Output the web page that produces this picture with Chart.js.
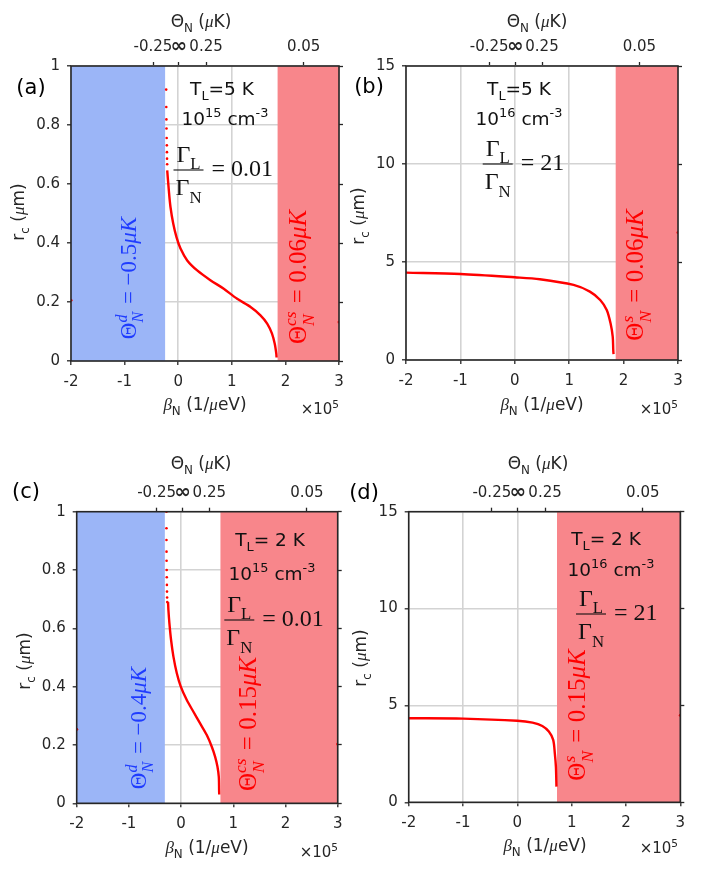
<!DOCTYPE html>
<html><head><meta charset="utf-8">
<script src="https://cdn.jsdelivr.net/npm/chart.js@4.4.1/dist/chart.umd.min.js"></script>
<style>
html,body{margin:0;padding:0;background:#fff;}
body{width:712px;height:877px;position:relative;overflow:hidden;}
canvas{position:absolute;left:0;top:0;}
</style></head><body>
<canvas id="ca" width="712" height="877"></canvas>
<canvas id="cb" width="712" height="877"></canvas>
<canvas id="cc" width="712" height="877"></canvas>
<canvas id="cd" width="712" height="877"></canvas>
<script>
// ---------------- data ----------------
const xMin = -2, xMax = 3;
const xTicks = [-2, -1, 0, 1, 2, 3];
const xTickLabels = ['-2', '-1', '0', '1', '2', '3'];
const thetaTickLabels = ['-0.25', '\u221E', '0.25', '0.05'];
const yTicksSmall = [0, 0.2, 0.4, 0.6, 0.8, 1];
const yTickLabelsSmall = ['0', '0.2', '0.4', '0.6', '0.8', '1'];
const yTicksLarge = [0, 5, 10, 15];
const yTickLabelsLarge = ['0', '5', '10', '15'];

// top-axis tick positions (beta, units of 1e5 /ueV) for Theta = -0.25, inf, 0.25, 0.05 uK
const thetaPosA = [-0.47, 0.01, 0.52, 2.34];
const thetaPosB = [-0.47, 0.01, 0.50, 2.29];
const thetaPosC = [-0.47, 0.03, 0.54, 2.41];
const thetaPosD = [-0.47, 0.01, 0.51, 2.31];

// shaded beta ranges
const blueA = [-2, -0.24], redA = [1.85, 3];
const redB = [1.85, 3];
const blueC = [-2, -0.31], redC = [0.75, 3];
const redD = [0.73, 3];

// panel (a)
const curveA_beta = [-0.205, -0.175, -0.144, -0.093, -0.032, 0.043, 0.168, 0.354, 0.60, 0.85, 1.10, 1.35, 1.535, 1.66, 1.75, 1.80, 1.83, 1.835];
const curveA_r    = [0.646, 0.579, 0.522, 0.466, 0.420, 0.381, 0.341, 0.307, 0.274, 0.245, 0.211, 0.183, 0.155, 0.127, 0.093, 0.059, 0.025, 0.012];
const dotsA_beta = [-0.224, -0.222, -0.22, -0.218, -0.215, -0.212, -0.21, -0.208, -0.206];
const dotsA_r    = [0.92, 0.861, 0.819, 0.788, 0.756, 0.731, 0.708, 0.686, 0.667];
const edgeA_beta = [-2, 3], edgeA_r = [0.206, 0.132];

// panel (b)
const curveB_beta = [-2, -1, 0, 0.46, 1.08, 1.38, 1.57, 1.69, 1.76, 1.80, 1.81, 1.815];
const curveB_r    = [4.46, 4.39, 4.22, 4.12, 3.83, 3.49, 3.06, 2.55, 1.87, 1.19, 0.51, 0.30];
const edgeB_beta = [3], edgeB_r = [6.5];

// panel (c)
const curveC_beta = [-0.25, -0.243, -0.224, -0.192, -0.147, -0.082, -0.006, 0.109, 0.236, 0.364, 0.492, 0.588, 0.651, 0.696, 0.722, 0.728, 0.73];
const curveC_r    = [0.69, 0.663, 0.617, 0.56, 0.503, 0.446, 0.40, 0.354, 0.314, 0.274, 0.234, 0.194, 0.16, 0.126, 0.091, 0.046, 0.03];
const dotsC_beta = [-0.28, -0.28, -0.28, -0.279, -0.278, -0.276, -0.274, -0.272, -0.27, -0.268, -0.265];
const dotsC_r    = [1.0, 0.943, 0.903, 0.863, 0.832, 0.8, 0.775, 0.749, 0.726, 0.706, 0.69];
const edgeC_beta = [-2, 3], edgeC_r = [0.254, 0.203];

// panel (d)
const curveD_beta = [-2, -1, 0, 0.28, 0.46, 0.58, 0.66, 0.69, 0.71, 0.72];
const curveD_r    = [4.34, 4.32, 4.21, 4.11, 3.94, 3.65, 3.22, 2.53, 1.84, 0.81];
const edgeD_beta = [3], edgeD_r = [4.49];

// ---------------- styles ----------------
const SANS = "'DejaVu Sans', Verdana, sans-serif";
const SERIF = "'Liberation Serif', 'Times New Roman', serif";
const INK = '#262626';
const BLUE_FILL = '#9bb5f7', RED_FILL = '#f8868b';
const BLUE_TXT = '#1f3cff', RED_TXT = '#ff0000', CURVE = '#ff0000';
const TICK = 15, TITLE = 17, NOTE = 18.5, FRAC = 24;

function pts(xs, ys) { return xs.map((x, i) => ({ x: x, y: ys[i] })); }

// ---------------- rich text ----------------
const S = t => ({ t });
const SUB = t => ({ t, sub: 1 });
const SUP = t => ({ t, sup: 1 });
const M = t => ({ t, serif: 1 });
const MI = t => ({ t, serif: 1, it: 1 });
const MSUB = t => ({ t, serif: 1, sub: 1 });
const SS = (a, b) => ({ ss: [a, b], serif: 1, it: 1, gap: 2 });

function fontOf(s, size) { return (s.it ? 'italic ' : '') + size.toFixed(1) + 'px ' + (s.serif ? SERIF : SANS); }
function segW(ctx, s, size) {
  if (s.ss) {
    ctx.font = fontOf(s, size * 0.7);
    return Math.max(ctx.measureText(s.ss[0]).width, ctx.measureText(s.ss[1]).width) + (s.gap || 0);
  }
  ctx.font = fontOf(s, (s.sub || s.sup) ? size * 0.7 : size);
  return ctx.measureText(s.t).width + (s.gap || 0);
}
function richW(ctx, segs, size) { return segs.reduce((a, s) => a + segW(ctx, s, size), 0); }
function drawSegs(ctx, segs, x0, base, size) {
  let cx = x0;
  segs.forEach(s => {
    const w = segW(ctx, s, size);
    if (s.ss) {
      ctx.font = fontOf(s, size * 0.7);
      ctx.fillText(s.ss[0], cx, base + size * 0.3);
      ctx.fillText(s.ss[1], cx, base - size * 0.42);
    } else {
      ctx.font = fontOf(s, (s.sub || s.sup) ? size * 0.7 : size);
      ctx.fillText(s.t, cx, base + (s.sub ? size * 0.3 : s.sup ? -size * 0.4 : 0));
    }
    cx += w;
  });
}
function drawItem(ctx, it) {
  const size = it.size, color = it.color || INK;
  ctx.save();
  ctx.fillStyle = color; ctx.strokeStyle = color;
  ctx.textAlign = 'left'; ctx.textBaseline = 'alphabetic';
  ctx.translate(it.x, it.y);
  if (it.rot) ctx.rotate(it.rot * Math.PI / 180);
  const capMid = size * 0.36;
  if (it.frac) {
    const wn = richW(ctx, it.num, size), wd = richW(ctx, it.den, size);
    const wb = Math.max(wn, wd) + 4;
    drawSegs(ctx, it.num, -wn / 2, -size * 0.7 + capMid, size);
    drawSegs(ctx, it.den, -wd / 2, size * 0.7 + capMid, size);
    ctx.lineWidth = 1.1;
    ctx.beginPath(); ctx.moveTo(-wb / 2, 0); ctx.lineTo(wb / 2, 0); ctx.stroke();
    drawSegs(ctx, it.rest, wb / 2 + 8, size * 0.27, size);
  } else {
    const w = richW(ctx, it.segs, size);
    const x0 = it.align === 'right' ? -w : it.align === 'left' ? 0 : -w / 2;
    drawSegs(ctx, it.segs, x0, capMid, size);
  }
  ctx.restore();
}
function annotPlugin(items) {
  return {
    id: 'annot',
    afterDatasetsDraw(chart) {
      const a = chart.chartArea, c = chart.ctx;
      c.save(); c.strokeStyle = INK; c.lineWidth = 1.6;
      c.strokeRect(a.left, a.top, a.right - a.left, a.bottom - a.top);
      c.restore();
    },
    afterDraw(chart) { items.forEach(it => drawItem(chart.ctx, it)); }
  };
}

// ---------------- chart factory ----------------
function region(range, yMax, color) {
  return { type: 'line', data: pts(range, range.map(() => yMax)), fill: 'start', backgroundColor: color,
           borderColor: 'rgba(0,0,0,0)', borderWidth: 0, pointRadius: 0, tension: 0, order: 5 };
}
function makeChart(p) {
  const datasets = [];
  if (p.blue) datasets.push(region(p.blue, p.yMax, BLUE_FILL));
  if (p.red) datasets.push(region(p.red, p.yMax, RED_FILL));
  datasets.push({ type: 'line', data: pts(p.cb, p.cr), borderColor: CURVE, borderWidth: 2.4, pointRadius: 0,
                  tension: 0.3, fill: false, order: 1 });
  if (p.db) datasets.push({ type: 'scatter', data: pts(p.db, p.dr), pointRadius: 1.3, pointBackgroundColor: CURVE,
                  pointBorderWidth: 0, showLine: false, order: 0 });
  datasets.push({ type: 'scatter', data: pts(p.eb, p.er), pointRadius: 1.5, pointBackgroundColor: CURVE,
                  pointBorderWidth: 0, showLine: false, order: 0 });

  const gridMain = { color: '#d3d3d3', lineWidth: 1.6, tickColor: INK, tickLength: 4, tickWidth: 1.3 };
  const gridSide = { drawOnChartArea: false, color: INK, tickColor: INK, tickLength: 4, tickWidth: 1.3 };
  const setTicks = arr => s => { s.ticks = arr.map(v => ({ value: v })); };
  const tf = size => ({ family: SANS, size: size, lineHeight: 1.2 });

  new Chart(document.getElementById(p.id), {
    type: 'scatter',
    data: { datasets },
    options: {
      responsive: false, animation: false, events: [],
      layout: { autoPadding: false, padding: { left: p.area[0] - 60, top: p.area[1] - 40, right: 712 - p.area[2] - 5, bottom: 877 - p.area[3] - 40 } },
      plugins: { legend: { display: false }, tooltip: { enabled: false } },
      scales: {
        x: { type: 'linear', position: 'bottom', min: xMin, max: xMax, afterBuildTicks: setTicks(xTicks), afterFit: s => { s.height = 40; },
             ticks: { autoSkip: false, maxRotation: 0, color: INK, font: tf(TICK), padding: 8, callback: (v, i) => xTickLabels[i] },
             grid: gridMain, border: { display: false } },
        x2: { type: 'linear', position: 'top', min: xMin, max: xMax, afterBuildTicks: setTicks(p.theta), afterFit: s => { s.height = 40; },
             ticks: { autoSkip: false, maxRotation: 0, color: INK, padding: 6,
                      font: c => (c.index === 1 ? { family: SANS, size: 20, weight: 'bold', lineHeight: TICK * 1.2 / 20 } : tf(TICK)),
                      callback: (v, i) => thetaTickLabels[i] },
             grid: gridSide, border: { display: false } },
        y: { type: 'linear', position: 'left', min: 0, max: p.yMax, afterBuildTicks: setTicks(p.yTicks), afterFit: s => { s.width = 60; },
             ticks: { color: INK, font: tf(TICK), padding: 7, callback: (v, i) => p.yLabels[i] },
             grid: gridMain, border: { display: false } },
        y2: { type: 'linear', position: 'right', min: 0, max: p.yMax, afterBuildTicks: setTicks(p.yTicks), afterFit: s => { s.width = 5; },
             ticks: { display: false }, grid: gridSide, border: { display: false } }
      }
    },
    plugins: [annotPlugin(p.items)]
  });
}

const K = '#111';
const panels = [
  { id: 'ca', area: [71, 66, 339, 361], yMax: 1, yTicks: yTicksSmall, yLabels: yTickLabelsSmall, theta: thetaPosA,
    blue: blueA, red: redA, cb: curveA_beta, cr: curveA_r, db: dotsA_beta, dr: dotsA_r, eb: edgeA_beta, er: edgeA_r,
    items: [
      { segs: [S('(a)')], x: 31, y: 86, size: 21, color: '#000' },
      { segs: [S('T'), SUB('L'), S('=5 K')], x: 222, y: 88, size: NOTE, color: K },
      { segs: [S('10'), SUP('15'), S(' cm'), SUP('-3')], x: 225, y: 118, size: NOTE, color: K },
      { frac: 1, num: [M('\u0393'), MSUB('L')], den: [M('\u0393'), MSUB('N')], rest: [M('= 0.01')], x: 188.5, y: 170, size: FRAC, color: K },
      { segs: [M('\u0398'), SS('N', 'd'), M(' = \u22120.5'), MI('\u03BCK')], x: 128, y: 278, size: 23, rot: -90, color: BLUE_TXT },
      { segs: [M('\u0398'), SS('N', 'cs'), M(' = 0.06'), MI('\u03BCK')], x: 297, y: 277, size: 25, rot: -90, color: RED_TXT },
      { segs: [S('r'), SUB('c'), S(' ('), MI('\u03BC'), S('m)')], x: 17.5, y: 212, size: TITLE, rot: -90 },
      { segs: [S('\u0398'), SUB('N'), S(' ('), MI('\u03BC'), S('K)')], x: 201, y: 21, size: TITLE },
      { segs: [MI('\u03B2'), SUB('N'), S(' (1/'), MI('\u03BC'), S('eV)')], x: 205, y: 404, size: TITLE },
      { segs: [S('\u00D710'), SUP('5')], x: 339, y: 409, size: TICK, align: 'right' }
    ] },
  { id: 'cb', area: [406, 66, 678, 360], yMax: 15, yTicks: yTicksLarge, yLabels: yTickLabelsLarge, theta: thetaPosB,
    red: redB, cb: curveB_beta, cr: curveB_r, eb: edgeB_beta, er: edgeB_r,
    items: [
      { segs: [S('(b)')], x: 369, y: 85, size: 21, color: '#000' },
      { segs: [S('T'), SUB('L'), S('=5 K')], x: 519, y: 88, size: NOTE, color: K },
      { segs: [S('10'), SUP('16'), S(' cm'), SUP('-3')], x: 519, y: 118, size: NOTE, color: K },
      { frac: 1, num: [M('\u0393'), MSUB('L')], den: [M('\u0393'), MSUB('N')], rest: [M('= 21')], x: 497.7, y: 164, size: FRAC, color: K },
      { segs: [M('\u0398'), SS('N', 's'), M(' = 0.06'), MI('\u03BCK')], x: 634, y: 275, size: 25, rot: -90, color: RED_TXT },
      { segs: [S('r'), SUB('c'), S(' ('), MI('\u03BC'), S('m)')], x: 358, y: 216, size: TITLE, rot: -90 },
      { segs: [S('\u0398'), SUB('N'), S(' ('), MI('\u03BC'), S('K)')], x: 537, y: 21, size: TITLE },
      { segs: [MI('\u03B2'), SUB('N'), S(' (1/'), MI('\u03BC'), S('eV)')], x: 542, y: 404, size: TITLE },
      { segs: [S('\u00D710'), SUP('5')], x: 678, y: 409, size: TICK, align: 'right' }
    ] },
  { id: 'cc', area: [76.7, 511.7, 337.7, 803.3], yMax: 1, yTicks: yTicksSmall, yLabels: yTickLabelsSmall, theta: thetaPosC,
    blue: blueC, red: redC, cb: curveC_beta, cr: curveC_r, db: dotsC_beta, dr: dotsC_r, eb: edgeC_beta, er: edgeC_r,
    items: [
      { segs: [S('(c)')], x: 26, y: 490, size: 21, color: '#000' },
      { segs: [S('T'), SUB('L'), S('= 2 K')], x: 270, y: 539, size: NOTE, color: K },
      { segs: [S('10'), SUP('15'), S(' cm'), SUP('-3')], x: 272, y: 573, size: NOTE, color: K },
      { frac: 1, num: [M('\u0393'), MSUB('L')], den: [M('\u0393'), MSUB('N')], rest: [M('= 0.01')], x: 239.3, y: 620, size: FRAC, color: K },
      { segs: [M('\u0398'), SS('N', 'd'), M(' = \u22120.4'), MI('\u03BCK')], x: 138, y: 728, size: 23, rot: -90, color: BLUE_TXT },
      { segs: [M('\u0398'), SS('N', 'cs'), M(' = 0.15'), MI('\u03BCK')], x: 247, y: 724, size: 25, rot: -90, color: RED_TXT },
      { segs: [S('r'), SUB('c'), S(' ('), MI('\u03BC'), S('m)')], x: 24, y: 661, size: TITLE, rot: -90 },
      { segs: [S('\u0398'), SUB('N'), S(' ('), MI('\u03BC'), S('K)')], x: 201, y: 463, size: TITLE },
      { segs: [MI('\u03B2'), SUB('N'), S(' (1/'), MI('\u03BC'), S('eV)')], x: 207, y: 847, size: TITLE },
      { segs: [S('\u00D710'), SUP('5')], x: 338, y: 852, size: TICK, align: 'right' }
    ] },
  { id: 'cd', area: [408.7, 511.7, 680.3, 802.3], yMax: 15, yTicks: yTicksLarge, yLabels: yTickLabelsLarge, theta: thetaPosD,
    red: redD, cb: curveD_beta, cr: curveD_r, eb: edgeD_beta, er: edgeD_r,
    items: [
      { segs: [S('(d)')], x: 364, y: 491, size: 21, color: '#000' },
      { segs: [S('T'), SUB('L'), S('= 2 K')], x: 606, y: 538, size: NOTE, color: K },
      { segs: [S('10'), SUP('16'), S(' cm'), SUP('-3')], x: 611, y: 569, size: NOTE, color: K },
      { frac: 1, num: [M('\u0393'), MSUB('L')], den: [M('\u0393'), MSUB('N')], rest: [M('= 21')], x: 591, y: 614, size: FRAC, color: K },
      { segs: [M('\u0398'), SS('N', 's'), M(' = 0.15'), MI('\u03BCK')], x: 576, y: 715, size: 25, rot: -90, color: RED_TXT },
      { segs: [S('r'), SUB('c'), S(' ('), MI('\u03BC'), S('m)')], x: 360, y: 658, size: TITLE, rot: -90 },
      { segs: [S('\u0398'), SUB('N'), S(' ('), MI('\u03BC'), S('K)')], x: 538, y: 463, size: TITLE },
      { segs: [MI('\u03B2'), SUB('N'), S(' (1/'), MI('\u03BC'), S('eV)')], x: 545, y: 845, size: TITLE },
      { segs: [S('\u00D710'), SUP('5')], x: 678, y: 848, size: TICK, align: 'right' }
    ] }
];
panels.forEach(makeChart);
</script>
</body></html>
